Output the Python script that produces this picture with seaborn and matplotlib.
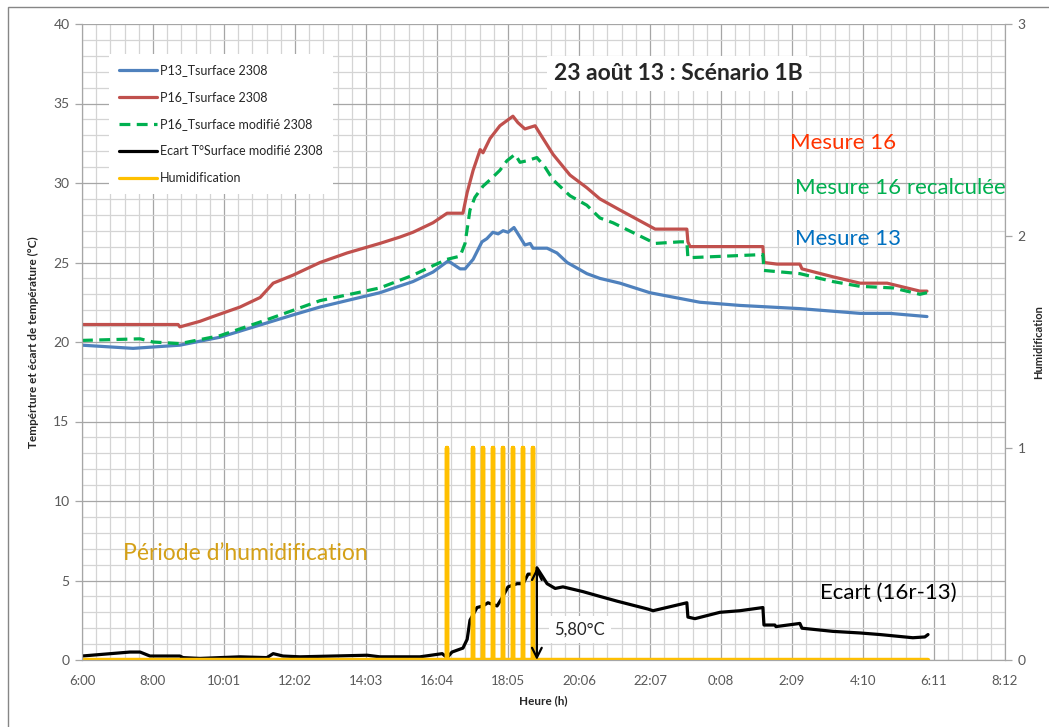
import numpy as np
import pandas as pd
import seaborn as sns
import matplotlib.pyplot as plt
from matplotlib.lines import Line2D
from matplotlib.patches import Rectangle

# hours elapsed since 6:00 on 23 Aug
t_p13 = [0, 1.45, 2.78, 3.92, 5.25, 5.99, 6.76, 8.46, 9.40, 9.97, 10.40, 10.74, 10.88,
         11.11, 11.36, 11.50, 11.67, 11.82, 11.96, 12.10, 12.27, 12.44, 12.58, 12.73,
         12.81, 13.21, 13.49, 13.78, 14.34, 14.71, 15.28, 16.13, 17.55, 18.69, 20.39,
         22.10, 22.95, 24.00]
v_p13 = [19.8, 19.6, 19.8, 20.3, 21.2, 21.7, 22.2, 23.1, 23.8, 24.4, 25.1, 24.6, 24.6,
         25.2, 26.3, 26.5, 26.9, 26.8, 27.0, 26.9, 27.2, 26.6, 26.1, 26.2,
         25.9, 25.9, 25.6, 25.0, 24.3, 24.0, 23.7, 23.1, 22.5, 22.3, 22.1,
         21.8, 21.8, 21.6]

t_p16 = [0, 2.73, 2.78, 3.35, 3.72, 4.49, 5.06, 5.43, 5.99, 6.76, 7.53, 8.46, 9.03, 9.40,
         9.97, 10.37, 10.82, 10.94, 11.11, 11.31, 11.39, 11.59, 11.87, 12.24, 12.38,
         12.58, 12.87, 13.01, 13.38, 13.86, 14.34, 14.71, 15.28, 16.28, 17.18, 17.21,
         17.27, 19.34, 19.37, 19.74, 20.39, 20.45, 21.33, 22.10, 22.87, 23.43, 23.80, 24.00]
v_p16 = [21.1, 21.1, 20.95, 21.3, 21.6, 22.2, 22.8, 23.7, 24.2, 25.0, 25.6, 26.2, 26.6, 26.9,
         27.5, 28.1, 28.1, 29.4, 30.8, 32.1, 31.9, 32.8, 33.6, 34.2, 33.8,
         33.4, 33.6, 33.1, 31.8, 30.5, 29.7, 29.0, 28.3, 27.1, 27.1, 26.3,
         26.0, 26.0, 25.0, 24.9, 24.9, 24.6, 24.1, 23.7, 23.7, 23.4, 23.2, 23.2]

t_p16m = [0, 1.65, 2.02, 2.78, 3.92, 5.25, 6.76, 8.46, 9.40, 9.97, 10.37, 10.74, 10.88,
          11.02, 11.16, 11.39, 11.59, 11.87, 12.07, 12.30, 12.44, 12.64, 12.92, 13.15,
          13.38, 13.86, 14.34, 14.71, 15.08, 16.28, 16.99, 17.18, 17.21, 19.34, 19.37,
          20.39, 21.33, 22.10, 23.04, 23.80, 24.00]
v_p16m = [20.1, 20.2, 20.0, 19.9, 20.4, 21.4, 22.6, 23.4, 24.2, 24.8, 25.2, 25.4, 26.2,
          28.3, 29.1, 29.8, 30.2, 30.8, 31.4, 31.8, 31.3, 31.4, 31.6, 31.0,
          30.2, 29.2, 28.6, 27.8, 27.5, 26.2, 26.3, 26.3, 25.3, 25.5, 24.5,
          24.3, 23.8, 23.5, 23.4, 23.0, 23.1]

t_ecart = [0, 1.36, 1.65, 1.93, 2.78, 2.87, 3.35, 4.49, 5.25, 5.43, 5.71, 6.19, 8.10, 8.46,
           9.60, 10.23, 10.37, 10.51, 10.82, 10.94, 11.02, 11.22, 11.39, 11.53, 11.79,
           11.93, 12.10, 12.36, 12.53, 12.67, 12.81, 12.92, 13.21, 13.44, 13.66, 14.23,
           14.71, 15.20, 16.08, 16.22, 17.18, 17.21, 17.41, 18.12, 18.69, 19.34, 19.37,
           19.68, 19.71, 20.39, 20.45, 21.33, 22.10, 22.67, 23.60, 23.94, 24.03]
v_ecart = [0.25, 0.5, 0.5, 0.25, 0.25, 0.15, 0.1, 0.2, 0.15, 0.4, 0.25, 0.2, 0.3, 0.2,
           0.2, 0.4, 0.15, 0.5, 0.75, 1.3, 2.5, 3.3, 3.4, 3.6, 3.4,
           3.9, 4.6, 4.8, 4.8, 5.4, 5.4, 5.8, 4.8, 4.5, 4.6, 4.3,
           4.0, 3.7, 3.2, 3.1, 3.6, 2.7, 2.6, 3.0, 3.1, 3.3, 2.2,
           2.2, 2.1, 2.3, 2.0, 1.8, 1.7, 1.6, 1.4, 1.45, 1.6]

# humidification pulses (value 1) at these times, 0 otherwise
humid_times = [10.37, 11.11, 11.39, 11.67, 11.96, 12.24, 12.53, 12.81]
humid_end = 24.03

tick_labels = ["6:00", "8:00", "10:01", "12:02", "14:03", "16:04", "18:05", "20:06",
               "22:07", "0:08", "2:09", "4:10", "6:11", "8:12"]
step = 121 / 60  # major unit of the time axis (h)

C_BLUE, C_RED, C_GREEN, C_YEL = "#4F81BD", "#C0504D", "#00B050", "#FFC000"

sns.set_style("white")
plt.rcParams["font.family"] = ["Lato", "DejaVu Sans"]

fig = plt.figure(figsize=(10.49, 7.27), dpi=100)
ax = fig.add_axes([82 / 1049, 1 - 660 / 727, 923 / 1049, 636 / 727])
ax2 = ax.twinx()

# humidification series: baseline at 0 with a spike at each pulse
hx, hy = [0.0], [0.0]
for t in humid_times:
    hx += [t, t, t]
    hy += [0, 1, 0]
hx.append(humid_end)
hy.append(0)
humid = pd.DataFrame({"t": hx, "h": hy})

sns.lineplot(x=t_p13, y=v_p13, ax=ax, color=C_BLUE, lw=2.3)
sns.lineplot(x=t_p16, y=v_p16, ax=ax, color=C_RED, lw=2.3)
sns.lineplot(x=t_p16m, y=v_p16m, ax=ax, color=C_GREEN, lw=2.3, linestyle=(0, (3.4, 2.0)))
sns.lineplot(x=t_ecart, y=v_ecart, ax=ax, color="black", lw=2.3)
sns.lineplot(data=humid, x="t", y="h", ax=ax2, color=C_YEL, lw=3.2,
             estimator=None, sort=False)

xmax = step * (len(tick_labels) - 1)
ax.set_xlim(0, xmax)
ax.set_ylim(0, 40)
ax2.set_ylim(0, 3)
ax.set_xticks(np.arange(len(tick_labels)) * step)
ax.set_xticklabels(tick_labels)
ax.set_xticks(np.arange(0, xmax + 0.01, step / 5), minor=True)
ax.set_yticks(range(0, 41, 5))
ax.set_yticks(range(0, 41, 1), minor=True)
ax2.set_yticks([0, 1, 2, 3])

ax.set_axisbelow(True)
ax.grid(which="minor", color="#D4D4D4", lw=0.9)
ax.grid(which="major", color="#A6A6A6", lw=0.9)
ax2.grid(False)

for a in (ax, ax2):
    for s in a.spines.values():
        s.set_color("#A6A6A6")
    a.spines["top"].set_visible(False)
    a.tick_params(which="major", direction="out", length=5, width=0.9,
                  color="#A6A6A6", labelcolor="#595959", labelsize=10, pad=4)
    a.tick_params(which="minor", length=0)
ax.tick_params(axis="x", labelsize=9.5, pad=6)

ax.set_xlabel("Heure (h)", fontsize=8.5, fontweight="bold", labelpad=6)
ax.set_ylabel("Tempérture et écart de température (°C)", fontsize=8.5,
              fontweight="bold", labelpad=10)
ax2.set_ylabel("Humidification", fontsize=8, fontweight="bold")
ax2.yaxis.set_label_coords(1.031, 0.5)

# legend
handles = [
    Line2D([], [], color=C_BLUE, lw=2.3),
    Line2D([], [], color=C_RED, lw=2.3),
    Line2D([], [], color=C_GREEN, lw=2.3, linestyle=(0, (3.4, 2.0))),
    Line2D([], [], color="black", lw=2.3),
    Line2D([], [], color=C_YEL, lw=2.3),
]
labels = ["P13_Tsurface 2308", "P16_Tsurface 2308", "P16_Tsurface modifié 2308",
          "Ecart T°Surface modifié 2308", "Humidification"]
leg = ax.legend(handles, labels, loc="upper left", bbox_to_anchor=(0.022, 0.962),
                fontsize=9, frameon=True, fancybox=False, handlelength=3.1,
                handletextpad=0.2, labelspacing=1.2, borderpad=0.8)
leg.get_frame().set_facecolor("white")
leg.get_frame().set_edgecolor("none")
leg.get_frame().set_alpha(1)
leg.set_zorder(5)

# texts
ax.text(16.93, 36.9, "23 août 13 : Scénario 1B", fontsize=16.5, fontweight="bold",
        ha="center", va="center", bbox=dict(facecolor="white", edgecolor="none", pad=5))
ax.text(20.11, 32.5, "Mesure 16", color="#FF3300", fontsize=16, va="center")
ax.text(20.25, 29.7, "Mesure 16 recalculée", color=C_GREEN, fontsize=16, va="center")
ax.text(20.25, 26.5, "Mesure 13", color="#0070C0", fontsize=16, va="center")
ax.text(1.16, 6.7, "Période d’humidification", color="#D4A017", fontsize=16.5, va="center")
ax.text(20.96, 4.2, "Ecart (16r-13)", color="black", fontsize=16, va="center")

# peak arrow and its label sit above the humidification pulses
i_peak = int(np.argmax(v_ecart))
ax2.annotate("", xy=(t_ecart[i_peak], 0), xytext=(t_ecart[i_peak], v_ecart[i_peak]),
             xycoords=ax.transData, textcoords=ax.transData,
             arrowprops=dict(arrowstyle="<->,head_length=0.7,head_width=0.35",
                             color="black", lw=1.6, shrinkA=0, shrinkB=0), zorder=6)
ax2.text(13.42, 1.9, "5,80°C", fontsize=12, va="center", transform=ax.transData,
         bbox=dict(facecolor="white", edgecolor="none", pad=4))

fig.add_artist(Rectangle((8 / 1049, -0.1), 1.2, 1.1 - 7 / 727, transform=fig.transFigure,
                         fill=False, edgecolor="#868686", lw=1))

fig.savefig("out.png", dpi=100)
